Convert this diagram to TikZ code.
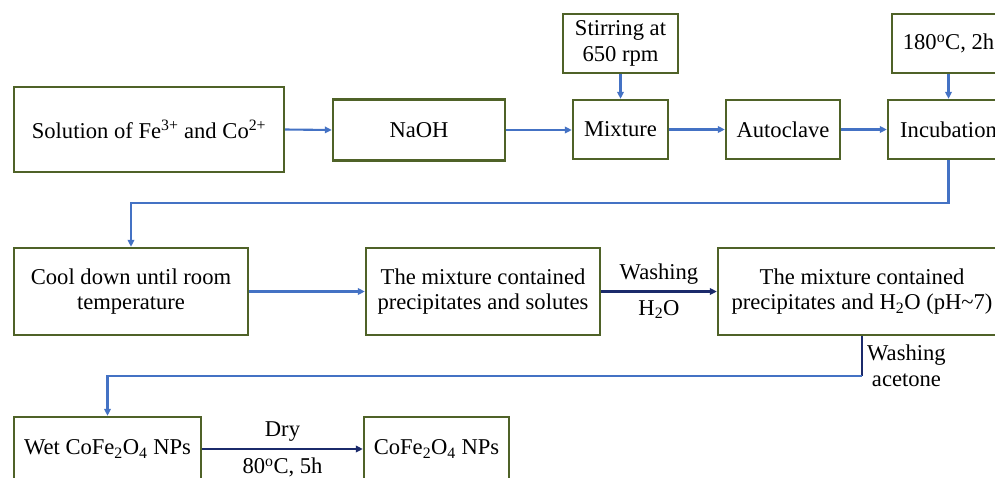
\documentclass[tikz,border=0pt]{standalone}
\usepackage{fontspec}
\setmainfont{Liberation Serif}
\usetikzlibrary{arrows.meta,positioning}
\definecolor{boxline}{HTML}{4F6228}
\definecolor{arrblue}{HTML}{4472C4}
\definecolor{arrnavy}{HTML}{1B2A6B}
\begin{document}
\begin{tikzpicture}[x=1pt,y=-1pt,
  stepbox/.style={draw=boxline,line width=2.3pt,fill=white,inner sep=0pt,align=center,
    font=\fontsize{22.6}{25.5}\selectfont},
  flow/.style={draw=arrblue,line width=2.1pt,-{Triangle[length=7pt,width=6.5pt]}},
  navyflow/.style={draw=arrnavy,line width=2.1pt,-{Triangle[length=7pt,width=6.5pt]}},
  lbl/.style={font=\fontsize{22.6}{25.5}\selectfont,inner sep=0pt,align=center}]
\useasboundingbox (0,0) rectangle (995,477);
\clip (0,0) rectangle (995,477);
% row 1
\node[stepbox,minimum width=270pt,minimum height=85pt] (sol) at (149,129.5) {Solution of Fe\textsuperscript{3+} and Co\textsuperscript{2+}};
\node[stepbox,minimum width=172pt,minimum height=61pt] (naoh) at (419,130) {NaOH};
\node[stepbox,minimum width=95pt,minimum height=59pt] (mix) at (620.5,129.5) {Mixture};
\node[stepbox,minimum width=115pt,minimum height=59pt] (stir) at (620.5,43.5) {Stirring at\\650 rpm};
\node[stepbox,minimum width=114pt,minimum height=59pt] (auto) at (783,129.5) {Autoclave};
\node[stepbox,minimum width=121pt,minimum height=59pt] (inc) at (948.5,129.5) {Incubation};
\node[stepbox,minimum width=113pt,minimum height=59pt] (temp) at (948.5,43.5) {180\textsuperscript{o}C, 2h};
% row 2
\node[stepbox,minimum width=234pt,minimum height=87pt] (cool) at (131,291.5) {Cool down until room\\temperature};
\node[stepbox,minimum width=234pt,minimum height=87pt] (mixsol) at (483,291.5) {The mixture contained\\precipitates and solutes};
\node[stepbox,minimum width=288pt,minimum height=87pt] (mixh) at (862,291.5) {The mixture contained\\precipitates and H\textsubscript{2}O (pH\textasciitilde7)};
% row 3
\node[stepbox,minimum width=187pt,minimum height=64pt] (wet) at (107.5,449) {Wet CoFe\textsubscript{2}O\textsubscript{4} NPs};
\node[stepbox,minimum width=145pt,minimum height=64pt] (np) at (436.5,449) {CoFe\textsubscript{2}O\textsubscript{4} NPs};
% connectors
\draw[flow] (sol.east) -- (naoh.west);
\draw[flow] (naoh.east) -- (naoh.east -| mix.west);
\draw[flow] (stir.south) -- (mix.north);
\draw[flow] (mix.east) -- (auto.west);
\draw[flow] (auto.east) -- (inc.west);
\draw[flow] (temp.south) -- (inc.north);
\coordinate (c1) at (948.5,203);
\draw[flow] (inc.south) -- (c1) -| (cool.north);
\draw[flow] (cool.east) -- (mixsol.west);
\draw[navyflow] (mixsol.east) -- node[lbl,above=6pt]{Washing} node[lbl,below=8pt]{H\textsubscript{2}O} (mixh.west);
\coordinate (c2) at (862,376);
\draw[arrnavy,line width=2.1pt] (mixh.south) -- (c2);
\draw[flow] (c2) -| (wet.north);
\node[lbl,anchor=north west] (wlab) at (867,345) {Washing\\acetone};
\draw[navyflow] (wet.east |- np.west) -- node[lbl,above=7pt]{Dry} node[lbl,below=8pt]{80\textsuperscript{o}C, 5h} (np.west);
\end{tikzpicture}
\end{document}
